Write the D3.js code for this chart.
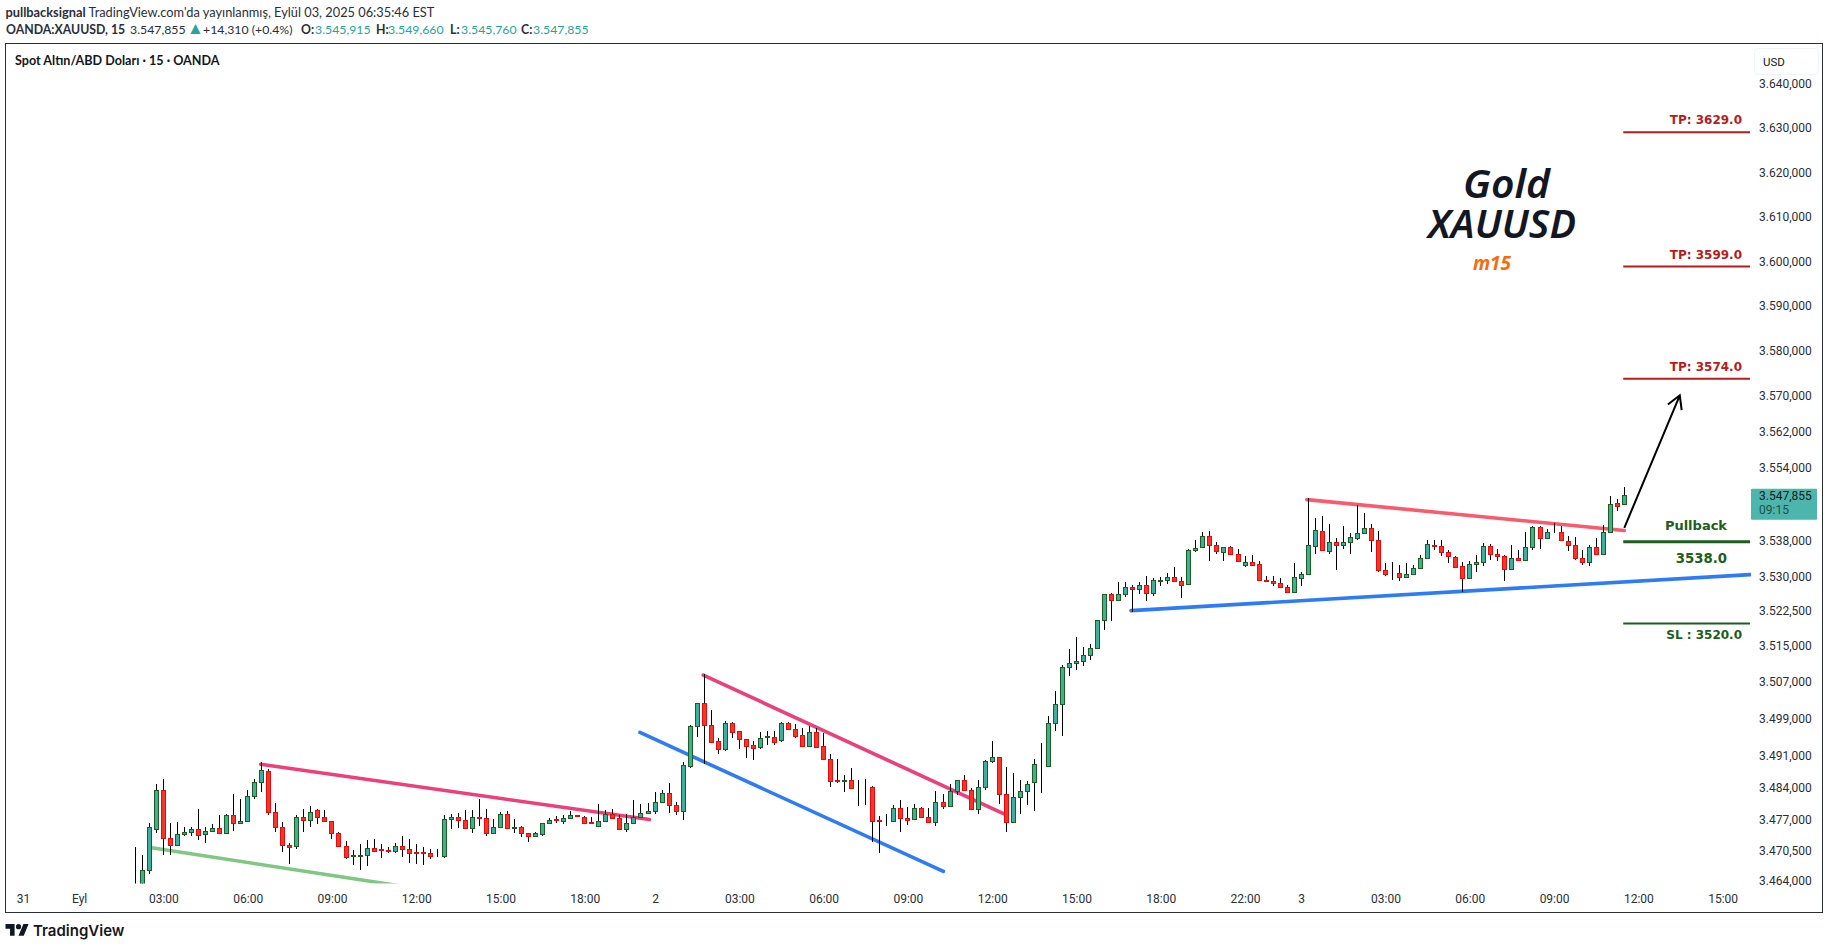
<!DOCTYPE html>
<html>
<head>
<meta charset="utf-8">
<script src="https://d3js.org/d3.v7.min.js"></script>
<style>
body { margin: 0; background: #fff; }
text { font-family: Lato, sans-serif; }
.axis text { font-family: Roboto, sans-serif; font-size: 12px; fill: #2a2e39; }
.note { font-family: "DejaVu Sans", sans-serif; font-weight: bold; }
</style>
</head>
<body>
<div id="screen"></div>
<script>
var width = 1829;
var height = 949;

// candles, 15 minute bars
var opens = [
3461.8,3462.5,3466.2,3475.0,3483.3,3473.1,3471.6,3473.9,3474.4,3474.9,
3473.8,3474.6,3475.1,3474.2,3477.9,3476.2,3476.8,3482.2,3485.2,3487.6,
3478.7,3475.5,3471.6,3471.2,3477.6,3477.0,3479.0,3477.6,3476.6,3474.2,
3471.2,3469.2,3469.2,3469.4,3470.9,3470.6,3470.4,3470.3,3471.2,3470.7,
3469.9,3469.9,3469.7,3469.2,3469.2,3477.2,3477.6,3477.0,3475.1,3477.6,
3477.4,3474.2,3475.5,3478.3,3475.2,3475.3,3474.0,3473.5,3473.9,3476.2,
3477.1,3476.8,3477.4,3477.9,3477.6,3476.4,3475.6,3476.8,3478.3,3477.4,
3475.0,3476.2,3477.6,3478.5,3478.9,3480.7,3482.8,3480.2,
3478.9,3488.7,3497.2,3502.4,3497.6,3494.0,3492.4,3497.9,3496.3,3494.4,
3493.1,3492.7,3495.0,3495.0,3494.2,3497.9,3496.6,3495.3,3493.0,3496.1,
3492.9,3490.1,3485.5,3485.4,3485.5,3483.9,3483.8,3484.0,3476.9,3476.7,
3476.8,3479.6,3477.3,3477.1,3479.4,3477.5,3476.4,3480.9,3479.9,3483.1,
3485.5,3483.3,3479.2,3484.0,3489.6,3490.5,3482.5,3476.4,3481.8,3483.1,
3485.1,3489.1,3488.7,3497.9,3502.2,
3510.2,3511.1,3511.5,3512.8,3514.3,3520.5,3526.1,3524.8,3526.1,3527.7,
3527.2,3528.1,3526.3,3529.1,3529.2,3529.8,3529.0,3528.3,3535.7,3536.4,
3538.8,3536.8,3535.4,3536.4,3534.9,3532.5,3533.1,3532.7,3529.2,3529.0,
3528.5,3527.7,3526.6,3529.6,3530.5,
3536.7,3540.0,3535.6,3537.6,3536.9,3537.6,3538.5,3539.6,3540.7,3538.0,
3531.4,3530.7,3530.7,3529.9,3530.5,3531.8,3534.0,3536.9,3536.7,3535.4,
3534.3,3532.3,3529.6,3532.7,3533.2,3536.7,3534.9,3534.5,3531.6,3534.0,
3533.6,3536.5,3540.9,3538.5,3539.7,3539.8,3537.8,3536.9,3534.0,3533.2,
3536.5,3534.9,3539.8,3546.2,3545.915
];
var highs = [
3471.1,3469.3,3476.2,3484.6,3485.9,3476.2,3476.4,3475.3,3475.5,3479.2,
3475.3,3476.0,3477.9,3478.3,3482.6,3481.5,3483.3,3485.9,3489.5,3488.0,
3480.5,3476.5,3472.0,3477.9,3479.2,3479.9,3479.2,3479.0,3476.8,3474.3,
3472.3,3470.5,3471.8,3472.5,3472.9,3471.8,3471.1,3472.0,3473.4,3472.8,
3471.7,3471.1,3470.6,3470.6,3477.9,3478.3,3478.5,3479.0,3479.0,3481.4,
3479.2,3477.2,3478.6,3478.9,3477.2,3475.6,3474.0,3474.3,3476.2,3477.4,
3477.7,3477.9,3478.8,3477.9,3477.7,3477.5,3480.3,3479.0,3479.2,3477.9,
3478.3,3481.2,3480.3,3480.5,3482.9,3483.5,3484.9,3480.8,
3489.4,3497.6,3502.4,3508.6,3500.8,3494.7,3498.3,3498.1,3496.3,3494.4,
3494.0,3496.0,3496.2,3496.3,3498.1,3498.1,3497.7,3496.8,3497.3,3496.8,
3495.7,3491.2,3490.2,3486.7,3488.1,3485.6,3485.9,3484.3,3477.8,3478.2,
3480.1,3481.2,3479.8,3480.4,3479.8,3479.4,3483.2,3482.5,3484.8,3485.5,
3486.7,3483.8,3485.6,3489.9,3494.0,3490.5,3488.3,3487.0,3485.6,3485.3,
3490.1,3493.5,3499.5,3504.9,3510.5,
3514.0,3516.7,3514.6,3515.3,3520.5,3526.1,3526.3,3528.8,3528.8,3528.1,
3528.8,3530.1,3529.7,3529.9,3530.8,3532.0,3529.9,3536.0,3538.0,3539.7,
3540.0,3537.6,3536.4,3536.6,3536.0,3534.5,3534.7,3533.4,3530.1,3530.1,
3529.7,3528.2,3533.0,3530.9,3547.2,
3542.9,3543.2,3541.6,3538.5,3541.0,3539.6,3545.8,3544.0,3541.6,3540.1,
3532.9,3533.2,3532.6,3533.0,3532.5,3534.7,3538.1,3538.1,3537.9,3535.9,
3534.5,3533.2,3533.5,3534.8,3537.4,3537.1,3536.0,3534.8,3536.8,3535.7,
3539.8,3541.2,3541.0,3540.5,3541.8,3541.1,3539.0,3538.7,3535.7,3536.8,
3538.5,3541.3,3547.8,3547.1,3549.66
];
var lows = [
3460.0,3461.5,3465.2,3474.1,3469.3,3469.4,3471.6,3473.4,3473.4,3472.6,
3472.0,3474.3,3474.2,3474.2,3474.5,3476.1,3476.8,3481.5,3483.0,3478.0,
3474.3,3470.0,3467.4,3470.7,3474.3,3475.4,3476.0,3476.6,3472.9,3471.0,
3468.5,3467.2,3466.1,3466.9,3470.0,3468.7,3469.7,3469.8,3468.9,3467.6,
3467.3,3467.2,3468.5,3469.0,3468.7,3475.0,3475.1,3475.1,3474.2,3475.6,
3473.5,3474.1,3475.3,3475.1,3474.0,3473.3,3472.2,3473.3,3473.5,3476.1,
3476.2,3476.0,3477.4,3477.6,3476.2,3476.1,3475.4,3476.5,3477.3,3474.9,
3474.3,3476.1,3477.4,3478.4,3478.3,3480.6,3478.4,3478.0,
3476.9,3488.2,3495.0,3489.0,3493.7,3491.2,3491.9,3494.7,3492.3,3490.4,
3489.9,3492.4,3493.2,3493.2,3493.9,3496.4,3494.6,3492.7,3492.9,3492.7,
3489.9,3484.1,3485.0,3483.0,3483.8,3480.0,3480.2,3472.2,3469.8,3475.7,
3476.7,3474.4,3475.8,3477.0,3477.4,3476.3,3475.7,3479.2,3479.8,3482.4,
3483.3,3479.1,3478.2,3483.4,3489.3,3480.4,3474.4,3476.4,3478.2,3480.2,
3478.9,3482.8,3488.5,3496.2,3495.1,
3508.1,3509.5,3510.3,3511.6,3514.3,3518.2,3520.2,3524.5,3525.4,3522.1,
3526.1,3524.7,3525.8,3527.8,3528.4,3529.0,3525.2,3528.2,3535.4,3536.3,
3533.3,3535.0,3533.3,3534.8,3533.3,3532.0,3532.5,3529.1,3529.1,3528.0,
3527.6,3526.5,3526.5,3527.9,3530.4,
3534.9,3535.5,3534.9,3531.5,3536.0,3534.9,3538.0,3539.3,3535.4,3530.9,
3530.0,3529.3,3529.1,3529.8,3530.4,3531.8,3534.0,3535.7,3534.4,3532.9,
3531.8,3526.5,3529.6,3530.9,3532.4,3533.7,3533.3,3528.9,3531.5,3533.6,
3533.5,3535.7,3536.0,3538.2,3539.5,3538.0,3535.5,3533.7,3532.6,3532.2,
3534.9,3534.9,3539.7,3544.5,3545.76
];
var closes = [
3462.6,3466.2,3475.3,3483.3,3473.1,3471.5,3473.8,3474.4,3474.9,3473.7,
3474.6,3475.1,3474.2,3477.9,3476.2,3476.8,3482.2,3485.2,3487.8,3478.7,
3475.4,3471.6,3471.1,3477.6,3477.0,3478.7,3477.6,3476.6,3474.2,3471.2,
3468.9,3469.3,3469.4,3470.9,3470.3,3470.5,3470.3,3471.2,3470.7,3469.8,
3469.8,3469.8,3469.2,3469.1,3477.2,3477.6,3477.0,3475.1,3477.6,3477.4,
3474.2,3475.5,3478.3,3475.1,3475.3,3474.0,3473.5,3474.0,3476.2,3477.0,
3477.0,3477.4,3477.9,3477.8,3476.3,3476.2,3476.8,3478.3,3477.4,3474.9,
3476.2,3477.6,3478.5,3478.9,3480.7,3482.8,3480.2,3478.9,
3488.8,3497.2,3502.4,3497.6,3493.9,3492.4,3497.9,3496.1,3494.4,3493.0,
3492.6,3494.8,3495.1,3493.9,3497.9,3496.6,3495.2,3493.0,3496.1,3492.8,
3490.1,3485.4,3485.4,3485.5,3483.8,3483.8,3483.9,3476.8,3476.8,3476.8,
3479.6,3477.3,3477.0,3479.6,3477.5,3476.4,3480.9,3479.9,3483.1,3485.5,
3483.3,3479.2,3484.0,3489.6,3490.5,3482.5,3476.4,3481.8,3483.1,3484.8,
3489.0,3489.0,3497.9,3502.2,3510.1,
3511.1,3511.5,3512.8,3514.3,3520.5,3526.1,3524.8,3526.1,3527.7,3527.2,
3528.1,3526.3,3529.2,3529.2,3529.8,3529.0,3528.2,3535.7,3536.3,3538.8,
3536.8,3535.5,3536.4,3534.9,3533.3,3533.1,3532.6,3529.2,3529.1,3528.5,
3527.7,3526.6,3529.8,3530.5,3536.8,
3540.2,3535.8,3537.6,3536.9,3537.6,3538.7,3539.6,3540.7,3538.0,3531.4,
3530.5,3530.8,3529.9,3530.5,3531.8,3534.0,3537.1,3536.7,3535.4,3534.5,
3532.1,3529.6,3532.7,3533.2,3536.7,3534.9,3534.5,3531.6,3534.0,3533.6,
3536.5,3540.9,3538.5,3539.8,3539.8,3538.0,3536.9,3534.0,3533.2,3536.5,
3534.9,3539.8,3546.0,3545.5,3547.855
];

// price axis labels
var priceTicks = [3640,3630,3620,3610,3600,3590,3580,3570,3562,3554,3538,3530,3522.5,3515,3507,3499,3491,3484,3477,3470.5,3464];

// time axis, bar number and label
var timeTicks = [-16,-8,4,16,28,40,52,64,74,86,98,110,122,134,146,158,166,178,190,202,214,226];
var timeLabels = ["31","Eyl","03:00","06:00","09:00","12:00","15:00","18:00","2","03:00","06:00","09:00","12:00","15:00","18:00","22:00","3","03:00","06:00","09:00","12:00","15:00"];

// drawings on the chart: [bar, price, bar, price]
var greenLines = [[2.33,3470.9,39,3462.4]];
var pinkLines = [[17.85,3489.0,73.2,3477.0],[80.87,3508.4,123.6,3478.3]];
var blueLines = [[71.85,3495.9,115.05,3465.8],[141.76,3522.5,229.9,3530.4]];
var redLines = [[166.8,3546.9,212,3540.1]];
var arrowLine = [212,3540.7,219.9,3570.0];

// target levels
var tpLevels = [3628.9,3598.7,3573.7];
var tpLabels = ["TP: 3629.0","TP: 3599.0","TP: 3574.0"];
var pullbackLevel = 3537.6;
var slLevel = 3519.7;
var levelStart = 211.85;
var levelEnd = 229.9;

// header pieces, text and left edge
var headerTexts = ["OANDA:XAUUSD, 15","3.547,855","▲","+14,310 (+0.4%)","O:","3.545,915","H:","3.549,660","L:","3.545,760","C:","3.547,855"];
var headerLefts = [6,130,187,203,301,315,376,388,450,461,521,533];

var paneLeft = 6;
var paneTop = 44;
var paneRight = 1751;
var paneBottom = 883.5;
var frameLeft = 5.5;
var frameRight = 1822.5;
var frameBottom = 912.5;

var xScale = d3.scaleLinear()
	.domain([0, 212])
	.range([135.3, 1624.3]);

var yScale = d3.scaleLog()
	.domain([3464, 3640])
	.range([879.8, 83.2]);

var screen = d3.select("#screen")
	.append("svg")
	.attr("width", width)
	.attr("height", height)
	.style("display", "block");

screen.append("defs").append("clipPath")
	.attr("id", "pane")
	.append("rect")
	.attr("x", paneLeft)
	.attr("y", paneTop)
	.attr("width", paneRight - paneLeft)
	.attr("height", paneBottom - paneTop);

// header ------------------------------------------------------
var line1 = screen.append("text")
	.attr("x", 5.5)
	.attr("y", 17)
	.style("font-size", "12.8px")
	.attr("fill", "#2a2e39");
line1.append("tspan").attr("font-weight", "bold").text("pullbacksignal");
line1.append("tspan").text(" TradingView.com'da yayınlanmış, Eylül 03, 2025 06:35:46 EST");

var line2 = screen.append("text")
	.attr("y", 34)
	.style("font-size", "12.3px")
	.attr("fill", "#2a2e39");
line2.selectAll("tspan")
	.data(headerTexts)
	.enter()
	.append("tspan")
	.attr("x", function(d, i) { return headerLefts[i]; })
	.attr("font-weight", function(d, i) { return (i == 0 || (i > 3 && i % 2 == 0)) ? "bold" : "normal"; })
	.attr("fill", function(d, i) { return (i == 2 || (i > 3 && i % 2 == 1)) ? "#26a69a" : "#2a2e39"; })
	.style("font-size", function(d, i) { return i == 2 ? "17px" : null; })
	.text(function(d) { return d; });

// frame -------------------------------------------------------
screen.append("rect")
	.attr("x", frameLeft)
	.attr("y", 43.5)
	.attr("width", frameRight - frameLeft)
	.attr("height", frameBottom - 43.5)
	.attr("fill", "none")
	.attr("stroke", "#2a2e39");

screen.append("text")
	.attr("x", 15)
	.attr("y", 65)
	.style("font-size", "12.6px")
	.attr("font-weight", "bold")
	.attr("fill", "#131722")
	.text("Spot Altın/ABD Doları · 15 · OANDA");

// axes --------------------------------------------------------
var timeAxis = d3.axisBottom(xScale)
	.tickValues(timeTicks)
	.tickFormat(function(d, i) { return timeLabels[i]; })
	.tickSize(0)
	.tickPadding(0);

screen.append("g")
	.attr("class", "axis")
	.attr("transform", "translate(0,894)")
	.call(timeAxis)
	.call(function(g) { g.select(".domain").remove(); });

var priceAxis = d3.axisRight(yScale)
	.tickValues(priceTicks)
	.tickFormat(function(d) { return d3.format(",.3f")(d).replace(/,/g, "#").replace(".", ",").replace("#", "."); })
	.tickSize(0)
	.tickPadding(0);

screen.append("g")
	.attr("class", "axis")
	.attr("transform", "translate(1759,0.5)")
	.call(priceAxis)
	.call(function(g) { g.select(".domain").remove(); });

// USD button
screen.append("rect")
	.attr("x", 1754.5)
	.attr("y", 48.5)
	.attr("width", 64)
	.attr("height", 26)
	.attr("rx", 4)
	.attr("fill", "#fff")
	.attr("stroke", "#f0f3fa");
screen.append("text")
	.attr("x", 1763)
	.attr("y", 66)
	.style("font-family", "Roboto")
	.style("font-size", "11.5px")
	.attr("fill", "#131722")
	.text("USD");

// drawings below the candles ----------------------------------
var pane = screen.append("g").attr("clip-path", "url(#pane)");

function drawLines(rows, color, w) {
	pane.append("g").selectAll("line")
		.data(rows)
		.enter()
		.append("line")
		.attr("x1", function(d) { return xScale(d[0]); })
		.attr("y1", function(d) { return yScale(d[1]); })
		.attr("x2", function(d) { return xScale(d[2]); })
		.attr("y2", function(d) { return yScale(d[3]); })
		.attr("stroke", color)
		.attr("stroke-width", w)
		.attr("stroke-linecap", "round");
}

drawLines(greenLines, "#81c784", 3.6);
drawLines(pinkLines, "#ec407a", 3.6);
drawLines(blueLines, "#2e7bf6", 3.6);
drawLines(redLines, "#fa5a6e", 3.6);

// candles -----------------------------------------------------
var bars = d3.range(opens.length);

function px(i) { return Math.floor(xScale(i)); }
function py(p) { return Math.round(yScale(p)); }

var candles = pane.append("g");

candles.selectAll(".wick")
	.data(bars)
	.enter()
	.append("rect")
	.attr("class", "wick")
	.attr("x", px)
	.attr("y", function(i) { return py(highs[i]); })
	.attr("width", 1)
	.attr("height", function(i) { return Math.max(1, py(lows[i]) - py(highs[i])); })
	.attr("fill", "#000");

candles.selectAll(".body")
	.data(bars)
	.enter()
	.append("rect")
	.attr("class", "body")
	.attr("x", function(i) { return px(i) - 1.5; })
	.attr("y", function(i) { return py(Math.max(opens[i], closes[i])) + 0.5; })
	.attr("width", 4)
	.attr("height", function(i) { return Math.max(0, py(Math.min(opens[i], closes[i])) - py(Math.max(opens[i], closes[i]))); })
	.attr("fill", function(i) { return closes[i] >= opens[i] ? "#3fae9c" : "#f6352b"; })
	.attr("stroke", function(i) { return closes[i] >= opens[i] ? "#1b5e20" : "#e60a0a"; })
	.attr("stroke-width", 1);

// levels and labels -------------------------------------------
var levels = screen.append("g");

levels.selectAll(".tp")
	.data(tpLevels)
	.enter()
	.append("line")
	.attr("class", "tp")
	.attr("x1", xScale(levelStart))
	.attr("x2", xScale(levelEnd))
	.attr("y1", function(d) { return yScale(d); })
	.attr("y2", function(d) { return yScale(d); })
	.attr("stroke", "#b71c1c")
	.attr("stroke-width", 2);

levels.selectAll(".tpLabel")
	.data(tpLevels)
	.enter()
	.append("text")
	.attr("class", "note tpLabel")
	.attr("x", 1742)
	.attr("y", function(d) { return yScale(d) - 8; })
	.attr("text-anchor", "end")
	.attr("fill", "#b71c1c")
	.style("font-size", "12px")
	.text(function(d, i) { return tpLabels[i]; });

levels.append("line")
	.attr("x1", xScale(levelStart))
	.attr("x2", xScale(levelEnd))
	.attr("y1", yScale(pullbackLevel))
	.attr("y2", yScale(pullbackLevel))
	.attr("stroke", "#1b5e20")
	.attr("stroke-width", 3);

levels.append("line")
	.attr("x1", xScale(levelStart))
	.attr("x2", xScale(levelEnd))
	.attr("y1", yScale(slLevel))
	.attr("y2", yScale(slLevel))
	.attr("stroke", "#1b5e20")
	.attr("stroke-width", 2);

levels.append("text")
	.attr("class", "note")
	.attr("x", 1727)
	.attr("y", yScale(pullbackLevel) - 11.5)
	.attr("text-anchor", "end")
	.attr("fill", "#1b5e20")
	.style("font-size", "13px")
	.text("Pullback");

levels.append("text")
	.attr("class", "note")
	.attr("x", 1727)
	.attr("y", yScale(pullbackLevel) + 21)
	.attr("text-anchor", "end")
	.attr("fill", "#1b5e20")
	.style("font-size", "13.3px")
	.text("3538.0");

levels.append("text")
	.attr("class", "note")
	.attr("x", 1742)
	.attr("y", yScale(slLevel) + 15.5)
	.attr("text-anchor", "end")
	.attr("fill", "#1b5e20")
	.style("font-size", "12px")
	.text("SL : 3520.0");

// arrow
var ax1 = xScale(arrowLine[0]);
var ay1 = yScale(arrowLine[1]);
var ax2 = xScale(arrowLine[2]);
var ay2 = yScale(arrowLine[3]);
var ang = Math.atan2(ay2 - ay1, ax2 - ax1);
var arrowPath = d3.path();
arrowPath.moveTo(ax1, ay1);
arrowPath.lineTo(ax2, ay2);
arrowPath.moveTo(ax2 + 15 * Math.cos(ang + 2.62), ay2 + 15 * Math.sin(ang + 2.62));
arrowPath.lineTo(ax2, ay2);
arrowPath.lineTo(ax2 + 15 * Math.cos(ang - 2.62), ay2 + 15 * Math.sin(ang - 2.62));
screen.append("path")
	.attr("d", arrowPath.toString())
	.attr("fill", "none")
	.attr("stroke", "#000")
	.attr("stroke-width", 2);

// title texts
screen.append("text")
	.attr("x", 1463)
	.attr("y", 197.5)
	.attr("textLength", 87)
	.attr("lengthAdjust", "spacingAndGlyphs")
	.attr("fill", "#131722")
	.style("font-family", "'Noto Sans'")
	.style("font-size", "40px")
	.style("font-style", "italic")
	.style("font-weight", "600")
	.text("Gold");

screen.append("text")
	.attr("x", 1428)
	.attr("y", 237.5)
	.attr("textLength", 148)
	.attr("lengthAdjust", "spacingAndGlyphs")
	.attr("fill", "#131722")
	.style("font-family", "'Noto Sans'")
	.style("font-size", "40px")
	.style("font-style", "italic")
	.style("font-weight", "600")
	.text("XAUUSD");

screen.append("text")
	.attr("x", 1492)
	.attr("y", 269.5)
	.attr("text-anchor", "middle")
	.attr("fill", "#f96a0a")
	.style("font-family", "'Noto Sans'")
	.style("font-size", "19px")
	.style("font-style", "italic")
	.style("font-weight", "bold")
	.text("m15");

// last price tag ----------------------------------------------
var lastClose = closes[closes.length - 1];
var tagY = yScale(lastClose);
screen.append("rect")
	.attr("x", 1751)
	.attr("y", tagY - 6.5)
	.attr("width", 66)
	.attr("height", 31)
	.attr("rx", 1)
	.attr("fill", "#4db6ac");
screen.append("text")
	.attr("x", 1759)
	.attr("y", tagY + 5)
	.style("font-family", "Roboto")
	.style("font-size", "12px")
	.attr("fill", "#131722")
	.text("3.547,855");
screen.append("text")
	.attr("x", 1759)
	.attr("y", tagY + 18.5)
	.style("font-family", "Roboto")
	.style("font-size", "12px")
	.attr("fill", "#1f4f4a")
	.text("09:15");

// logo --------------------------------------------------------
var logo = screen.append("g").attr("transform", "translate(5.5,921.5) scale(0.65)");
logo.append("path")
	.attr("d", "M14 22H7V11H0V4h14v18zM28 22h-8l7.5-18h8L28 22z")
	.attr("fill", "#131722");
logo.append("circle")
	.attr("cx", 20)
	.attr("cy", 8)
	.attr("r", 4)
	.attr("fill", "#131722");
screen.append("text")
	.attr("x", 33)
	.attr("y", 936)
	.style("font-family", "Inter")
	.style("font-size", "15px")
	.style("font-weight", "600")
	.attr("fill", "#131722")
	.text("TradingView");
</script>
</body>
</html>
